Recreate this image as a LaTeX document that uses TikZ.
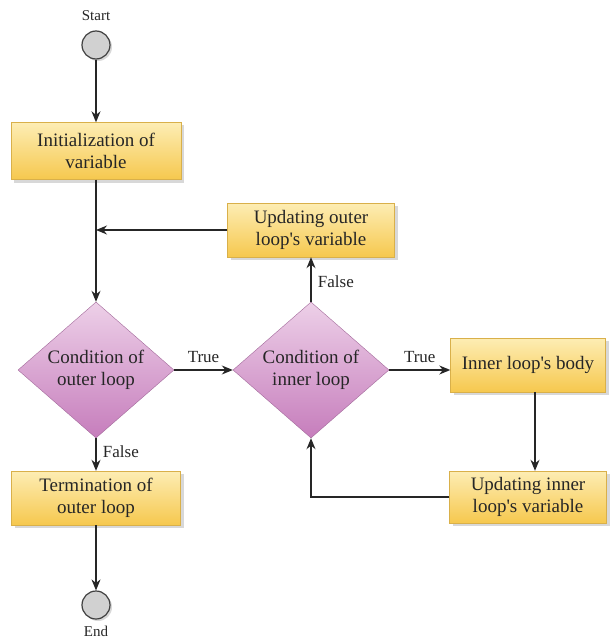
\documentclass[tikz,border=0pt]{standalone}
\usepackage{fontspec}
\setmainfont{Liberation Serif}[Ligatures=TeXOff]
\usetikzlibrary{shapes.geometric,arrows.meta,shadows}
\definecolor{boxtop}{HTML}{FDEDB4}
\definecolor{boxbot}{HTML}{F6C84E}
\definecolor{boxline}{HTML}{D9B04A}
\definecolor{dmtop}{HTML}{EDD0E8}
\definecolor{dmbot}{HTML}{C67DBC}
\definecolor{dmline}{HTML}{A36A9B}
\definecolor{ink}{HTML}{262626}
\tikzset{
  every node/.style={text=ink},
  procbox/.style={rectangle, draw=boxline, top color=boxtop, bottom color=boxbot,
    align=center, font=\fontsize{19}{22}\selectfont, inner sep=0pt,
    drop shadow={shadow xshift=3pt, shadow yshift=-3pt, fill=black!30}},
  decision/.style={diamond, draw=dmline, top color=dmtop, bottom color=dmbot,
    align=center, font=\fontsize{19}{22}\selectfont, inner sep=0pt,
    minimum width=156pt, minimum height=135pt},
  terminal/.style={circle, draw=black!75, line width=1.2pt, fill=black!18, minimum size=28pt, inner sep=0pt,
    drop shadow={shadow xshift=2pt, shadow yshift=-2pt, fill=black!30}},
  small/.style={font=\fontsize{15}{18}\selectfont},
  edgelabel/.style={font=\fontsize{17}{20}\selectfont},
  arrow/.style={draw=black!85, line width=1.2pt, -{Stealth[length=11pt,width=9pt]}},
  plain/.style={draw=black!85, line width=1.2pt}
}
\begin{document}
\begin{tikzpicture}[x=1pt,y=-1pt]
\useasboundingbox[fill=white] (0,0) rectangle (610,639);

% terminals
\node[terminal] (start) at (96,45) {};
\node[small, anchor=base] (startlbl) at (96,21) {Start};
\node[terminal] (end) at (96,605) {};
\node[small, anchor=base] (endlbl) at (96,636) {End};

% process boxes
\node[procbox, minimum width=170pt, minimum height=57pt] (init) at (96,151)
  {Initialization of\\variable};
\node[procbox, minimum width=167pt, minimum height=54pt] (outerupd) at (311,230)
  {Updating outer\\loop's variable};
\node[procbox, minimum width=155pt, minimum height=54pt] (body) at (528,365)
  {Inner loop's body};
\node[procbox, minimum width=157pt, minimum height=52pt] (innerupd) at (528,497)
  {Updating inner\\loop's variable};
\node[procbox, minimum width=169pt, minimum height=54pt] (term) at (96,498)
  {Termination of\\outer loop};

% decisions
\node[decision] (cond1) at (96,370) {Condition of\\outer loop};
\node[decision] (cond2) at (311,370) {Condition of\\inner loop};

% flow
\draw[arrow] (start) -- (init);
\draw[arrow] (init) -- (cond1);
\coordinate (join) at (outerupd.west -| init.south);
\draw[arrow] (outerupd.west) -- (join);
\draw[arrow] (cond1) -- node[edgelabel, above=3pt] (t1) {True} (cond2);
\draw[arrow] (cond2.east) -- node[edgelabel, above=3pt] (t2) {True} (cond2.east -| body.west);
\draw[arrow] (cond2) -- node[edgelabel, right=3pt, pos=0.45] (f2) {False} (outerupd);
\draw[arrow] ([xshift=7pt]body.south) -- ([xshift=7pt]body.south |- innerupd.north);
\draw[arrow] (innerupd.west) -| (cond2.south);
\draw[arrow] (cond1) -- node[edgelabel, right=3pt, pos=0.4] (f1) {False} (term);
\draw[arrow] (term) -- (end);
\end{tikzpicture}
\end{document}
